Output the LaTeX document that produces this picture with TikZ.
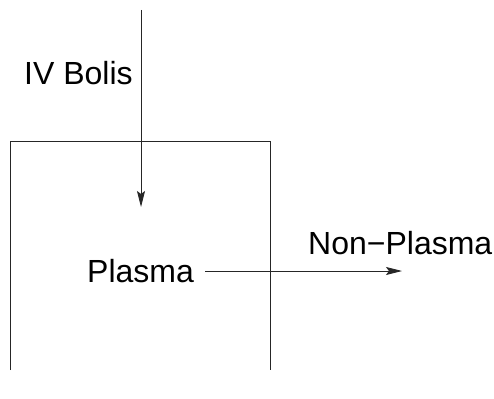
\documentclass[tikz,border=0pt]{standalone}
\usepackage{fontspec}
\setmainfont{Liberation Sans}
\usetikzlibrary{arrows.meta}
\begin{document}
\begin{tikzpicture}[x=1pt,y=-1pt,
  lbl/.style={font=\fontsize{32}{38}\selectfont, inner sep=0pt, anchor=base west},
  ln/.style={line width=0.9pt, draw=black!85},
  arr/.style={ln, -{Stealth[length=16pt,width=8pt,inset=3pt]}}]
\useasboundingbox (0,0) rectangle (494,398);
% open box
\draw[ln] (10,370) -- (10,141.5) -- (270,141.5) -- (270,370);
% labels
\node[lbl] (iv) at (24,85) {IV Bolis};
\node[lbl] (plasma) at (87,282) {Plasma};
\node[lbl] (nonplasma) at (308,254) {Non−Plasma};
% arrows
\coordinate (vtop) at (141,10);
\coordinate (vend) at (141,207);
\draw[arr] (vtop) -- (vend);
\coordinate (hstart) at (205,271);
\coordinate (hend) at (402,271);
\draw[arr] (hstart) -- (hend);
\end{tikzpicture}
\end{document}
